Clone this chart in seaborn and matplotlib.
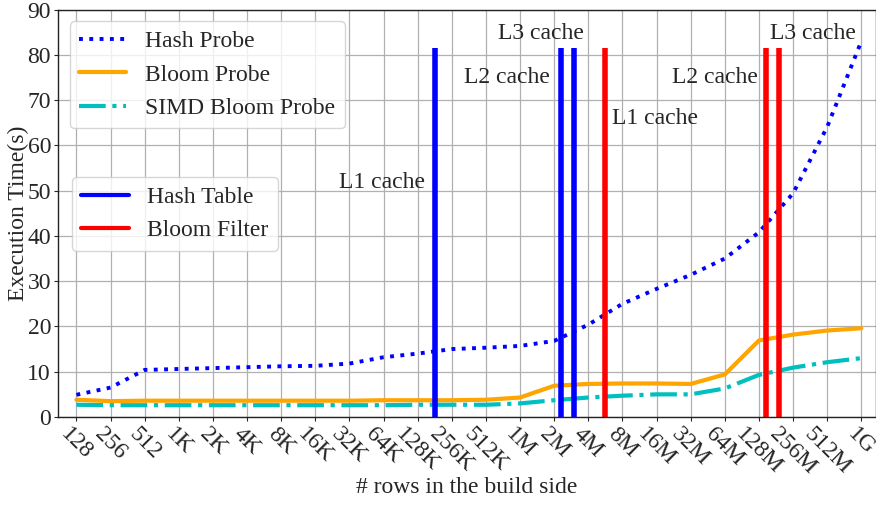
import matplotlib
matplotlib.use("Agg")
import matplotlib.pyplot as plt
from matplotlib.lines import Line2D
import seaborn as sns
import pandas as pd
import numpy as np

# Build-side row counts (log2 steps)
sizes = ['128', '256', '512', '1K', '2K', '4K', '8K', '16K', '32K', '64K',
         '128K', '256K', '512K', '1M', '2M', '4M', '8M', '16M', '32M', '64M',
         '128M', '256M', '512M', '1G']

# Execution time in seconds
hash_probe = [4.9, 6.5, 10.4, 10.6, 10.8, 11.0, 11.2, 11.3, 11.8, 13.2,
              14.0, 15.0, 15.3, 15.7, 16.8, 20.4, 25.0, 28.3, 31.4, 35.0,
              40.8, 49.4, 64.1, 83.0]
bloom_probe = [3.8, 3.5, 3.6, 3.6, 3.6, 3.6, 3.6, 3.6, 3.6, 3.7,
               3.7, 3.7, 3.8, 4.3, 6.9, 7.3, 7.4, 7.4, 7.3, 9.4,
               16.9, 18.2, 19.1, 19.6]
simd_bloom_probe = [2.7, 2.6, 2.6, 2.6, 2.6, 2.6, 2.6, 2.6, 2.6, 2.6,
                    2.7, 2.7, 2.7, 3.0, 3.7, 4.3, 4.7, 5.0, 5.0, 6.3,
                    9.3, 10.9, 12.1, 13.0]

# Points where the structure outgrows L1 / L2 / L3 (in x-index units)
hash_table_caches = [10.51, 14.20, 14.59]
bloom_filter_caches = [15.50, 20.21, 20.60]
cache_top = 81.5

sns.set_style("ticks")
plt.rcParams['font.family'] = ['Liberation Serif', 'DejaVu Serif']
FS = 17

fig = plt.figure(figsize=(8.76, 5.05), dpi=100)
ax = fig.add_axes([0.0662, 0.1743, 0.9338, 0.8067])

x = np.arange(len(sizes))
df = pd.DataFrame({'x': x, 'hash': hash_probe, 'bloom': bloom_probe,
                   'simd': simd_bloom_probe})

sns.lineplot(data=df, x='x', y='hash', ax=ax, color='#0000FF',
             linestyle=':', linewidth=2.8, label='Hash Probe')
sns.lineplot(data=df, x='x', y='bloom', ax=ax, color='#FFA500',
             linestyle='-', linewidth=3, label='Bloom Probe')
sns.lineplot(data=df, x='x', y='simd', ax=ax, color='#00BFBF',
             linestyle='-.', linewidth=3, label='SIMD Bloom Probe')

ax.vlines(hash_table_caches, 0, cache_top, colors='#0000FF', linewidth=4)
ax.vlines(bloom_filter_caches, 0, cache_top, colors='#FF0000', linewidth=4)

# Cache level annotations
ax.text(10.22, 50.6, 'L1 cache', ha='right', va='baseline', fontsize=FS)
ax.text(13.87, 73.7, 'L2 cache', ha='right', va='baseline', fontsize=FS)
ax.text(14.88, 83.4, 'L3 cache', ha='right', va='baseline', fontsize=FS)
ax.text(15.69, 64.8, 'L1 cache', ha='left', va='baseline', fontsize=FS)
ax.text(19.97, 73.7, 'L2 cache', ha='right', va='baseline', fontsize=FS)
ax.text(20.32, 83.4, 'L3 cache', ha='left', va='baseline', fontsize=FS)

ax.set_xlim(-0.54, 23.43)
ax.set_ylim(0, 90)
ax.set_xticks(x)
ax.set_xticklabels(sizes, rotation=-45, fontsize=FS)
ax.set_yticks(np.arange(0, 91, 10))
ax.tick_params(axis='both', labelsize=FS, length=3, width=0.8, pad=2)
ax.grid(True, color='#b0b0b0', linewidth=0.9)
ax.set_axisbelow(True)
for s in ax.spines.values():
    s.set_color('#222222')
    s.set_linewidth(1.0)

ax.set_xlabel('# rows in the build side', fontsize=FS)
ax.set_ylabel('Execution Time(s)', fontsize=FS)
ax.xaxis.set_label_coords(0.5, -0.148)
ax.yaxis.set_label_coords(-0.036, 0.5)

leg1 = ax.legend(loc='upper left', fontsize=FS, handlelength=2.0)
ax.add_artist(leg1)
proxies = [Line2D([0], [0], color='#0000FF', linewidth=3),
           Line2D([0], [0], color='#FF0000', linewidth=3)]
ax.legend(proxies, ['Hash Table', 'Bloom Filter'], loc='upper left',
          bbox_to_anchor=(0.017, 0.589), borderaxespad=0, fontsize=FS)

fig.savefig('out.png', dpi=100)
